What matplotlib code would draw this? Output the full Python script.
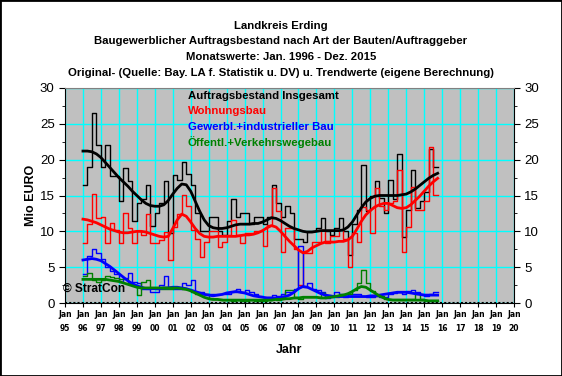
import numpy as np
import matplotlib
matplotlib.use("Agg")
import matplotlib.pyplot as plt
from matplotlib.patches import Rectangle

plt.rcParams["font.family"] = ["Liberation Sans", "DejaVu Sans"]

# ─── DATA (quarterly values, 1996 Q1 .. 2015 Q3) ─────────────────────────────
START = 1996.0
years = list(range(1995, 2021))

gesamt = [16.5, 19.0, 26.5, 22.0,  19.0, 22.0, 17.7, 17.7,  14.3, 18.8, 17.0, 11.5,
          14.0, 14.5, 16.5, 10.8,  12.5, 14.0, 17.0, 9.8,   17.8, 17.2, 19.7, 18.0,
          16.5, 12.5, 10.0, 10.0,  12.0, 12.0, 10.0, 9.5,   11.5, 14.5, 12.0, 12.5,
          12.5, 11.0, 12.0, 12.0,  11.0, 12.0, 16.5, 14.0,  12.0, 13.5, 12.5, 9.0,
          9.0, 8.5, 10.0, 10.0,    10.5, 11.9, 10.0, 9.5,   10.5, 11.8, 10.0, 6.7,
          11.0, 13.0, 19.3, 12.8,  15.0, 17.0, 14.7, 12.6,  17.2, 14.5, 20.8, 9.2,
          13.0, 18.6, 13.2, 14.3,  15.5, 21.5, 19.0]
wohnung = [8.4, 11.0, 15.2, 11.8,  12.0, 8.4, 11.2, 10.2,  8.4, 12.6, 10.5, 8.4,
           10.0, 9.5, 12.4, 8.4,   8.4, 8.8, 9.9, 6.0,     10.6, 12.4, 15.1, 13.5,
           10.2, 9.0, 6.4, 8.5,    10.0, 10.0, 7.8, 8.5,   9.5, 11.6, 9.5, 8.4,
           9.7, 9.7, 10.0, 10.0,   8.0, 10.9, 16.0, 12.9,  7.1, 10.5, 10.5, 7.5,
           2.5, 7.0, 7.0, 8.5,     8.5, 10.2, 8.4, 9.3,    9.3, 10.2, 9.0, 5.0,
           9.7, 8.5, 13.4, 13.0,   9.7, 16.0, 13.5, 13.0,  13.9, 14.2, 18.6, 7.1,
           10.6, 16.2, 13.0, 13.0, 14.3, 21.7, 15.1]
gewerbe = [4.0, 6.5, 7.5, 7.0,  6.2, 5.0, 4.5, 4.0,  3.0, 3.5, 4.2, 3.0,
           2.8, 2.0, 2.0, 1.5,  1.5, 2.5, 3.7, 2.3,  2.0, 2.0, 2.8, 2.5,
           3.2, 1.6, 1.6, 1.2,  1.2, 1.3, 1.3, 1.3,  1.3, 1.5, 2.0, 1.5,
           1.8, 1.5, 1.3, 1.0,  0.8, 0.9, 1.1, 1.0,  1.3, 1.5, 1.5, 2.0,
           8.0, 2.2, 2.8, 2.0,  1.8, 1.6, 0.7, 0.8,  1.5, 1.2, 0.9, 1.2,
           1.3, 1.3, 1.0, 0.9,  0.9, 1.0, 0.8, 0.9,  1.2, 1.4, 1.5, 1.3,
           1.7, 1.8, 1.6, 1.2,  1.0, 1.2, 1.5]
oeffentl = [3.7, 4.2, 3.2, 3.0,  3.2, 3.8, 3.6, 3.5,  3.3, 3.3, 2.8, 2.5,
            1.1, 3.0, 3.2, 2.1,  1.9, 1.9, 2.0, 2.0,  2.1, 2.1, 2.0, 2.0,
            1.5, 1.2, 1.2, 1.2,  0.6, 0.6, 0.6, 0.4,  0.4, 0.3, 0.4, 0.3,
            0.3, 0.4, 0.3, 0.3,  0.3, 0.4, 0.5, 0.4,  0.5, 1.8, 1.8, 0.8,
            0.5, 0.8, 0.8, 0.8,  0.8, 1.4, 0.8, 0.8,  0.8, 1.2, 1.2, 1.2,
            1.8, 2.8, 4.6, 2.8,  1.7, 1.0, 1.0, 0.5,  0.5, 0.5, 0.5, 0.5,
            0.5, 0.5, 1.3, 0.5,  0.3, 0.3, 0.3]

# trend values (quarterly, 1996 Q1 .. 2015 Q4)
trend_gesamt = [21.2, 21.2, 21.1, 20.8,  20.3, 19.6, 18.9, 18.2,  17.5, 16.9, 16.3, 15.6,
                15.0, 14.4, 13.9, 13.6,  13.5, 13.5, 13.7, 14.3,  15.2, 16.0, 16.6, 16.5,
                15.6, 14.2, 12.8, 11.6,  10.8, 10.5, 10.4, 10.4,  10.5, 10.7, 10.9, 11.0,
                11.0, 11.0, 11.1, 11.1,  11.3, 11.6, 11.9, 11.8,  11.5, 11.1, 10.7, 10.4,
                10.2, 10.0, 9.9, 9.9,    10.0, 10.1, 10.1, 10.1,  10.1, 10.1, 10.2, 10.6,
                11.3, 12.3, 13.3, 14.1,  14.6, 14.9, 15.0, 15.0,  15.0, 15.0, 15.0, 15.1,
                15.2, 15.5, 15.9, 16.4,  16.9, 17.4, 17.8, 18.1]
trend_wohnung = [11.7, 11.6, 11.4, 11.2,  10.9, 10.6, 10.3, 10.1,  9.9, 9.8, 9.8, 9.9,
                 10.0, 10.0, 9.9, 9.7,    9.5, 9.3, 9.2, 9.3,      10.4, 11.6, 12.4, 12.1,
                 11.3, 10.4, 9.7, 9.3,    9.2, 9.2, 9.3, 9.3,      9.3, 9.3, 9.3, 9.4,
                 9.5, 9.5, 9.6, 9.8,      10.1, 10.5, 10.8, 10.6,  10.0, 9.3, 8.6, 8.0,
                 7.4, 7.0, 7.2, 7.7,      8.0, 8.3, 8.5, 8.5,      8.5, 8.6, 8.6, 8.8,
                 9.3, 10.3, 11.4, 12.3,   12.9, 13.4, 13.7, 13.9,  13.9, 13.6, 13.3, 13.2,
                 13.3, 13.7, 14.3, 14.9,  15.6, 16.3, 16.9, 17.4]
trend_gewerbe = [6.0, 6.1, 6.2, 6.1,  5.9, 5.5, 5.1, 4.6,  4.1, 3.6, 3.1, 2.7,
                 2.4, 2.2, 2.0, 2.0,  2.0, 2.0, 2.1, 2.1,  2.2, 2.2, 2.1, 2.0,
                 1.8, 1.6, 1.4, 1.2,  1.1, 1.0, 1.1, 1.2,  1.4, 1.5, 1.6, 1.5,
                 1.4, 1.2, 1.0, 0.9,  0.8, 0.7, 0.7, 0.7,  0.8, 0.9, 1.1, 1.5,
                 2.0, 2.3, 2.2, 1.9,  1.6, 1.3, 1.1, 1.0,  0.9, 0.9, 0.9, 0.9,
                 0.9, 0.9, 0.9, 0.9,  1.0, 1.0, 1.1, 1.2,  1.3, 1.4, 1.5, 1.5,
                 1.5, 1.4, 1.3, 1.2,  1.1, 1.1, 1.1, 1.1]
trend_oeffentl = [3.3, 3.3, 3.3, 3.3,  3.3, 3.3, 3.2, 3.1,  3.0, 2.8, 2.6, 2.4,
                  2.2, 2.1, 2.1, 2.1,  2.1, 2.1, 2.1, 2.1,  2.1, 2.1, 2.0, 1.9,
                  1.7, 1.4, 1.1, 0.8,  0.6, 0.5, 0.5, 0.4,  0.4, 0.4, 0.4, 0.4,
                  0.4, 0.4, 0.4, 0.4,  0.4, 0.4, 0.4, 0.5,  0.5, 0.6, 0.6, 0.7,
                  0.7, 0.8, 0.8, 0.8,  0.8, 0.7, 0.7, 0.8,  0.9, 1.0, 1.1, 1.3,
                  1.6, 2.0, 2.3, 2.2,  1.8, 1.4, 1.0, 0.7,  0.5, 0.4, 0.4, 0.4,
                  0.4, 0.4, 0.4, 0.4,  0.4, 0.3, 0.3, 0.3]

names = ["Auftragsbestand Insgesamt", "Wohnungsbau",
         "Gewerbl.+industrieller Bau", "Öffentl.+Verkehrswegebau"]
colors = ["#000000", "#FF0000", "#0000FF", "#008000"]

titles = ["Landkreis Erding",
          "Baugewerblicher Auftragsbestand nach Art der Bauten/Auftraggeber",
          "Monatswerte: Jan. 1996 - Dez. 2015",
          "Original- (Quelle: Bay. LA f. Statistik u. DV) u. Trendwerte (eigene Berechnung)"]

# ─── PLOT ────────────────────────────────────────────────────────────────────
W, H = 562, 376
fig = plt.figure(figsize=(W/100, H/100), dpi=100)
fig.patch.set_facecolor("white")
ax = fig.add_axes([65/W, 1-303/H, 449/W, 215/H])
ax.set_facecolor("#C0C0C0")

raws = [gesamt, wohnung, gewerbe, oeffentl]
trends = [trend_gesamt, trend_wohnung, trend_gewerbe, trend_oeffentl]

for vals, c in zip(raws, colors):
    v = np.array(vals)
    x = START + np.arange(len(v) + 1) / 4
    ax.step(x, np.append(v, v[-1]), where="post", color=c, lw=1, zorder=3)
for vals, c in zip(trends, colors):
    v = np.array(vals)
    x = START + np.arange(len(v)) / 4
    ax.plot(x, v, color=c, lw=2.0, zorder=4)

ax.set_xlim(1995, 2020)
ax.set_ylim(0, 30)
ax.set_xticks(years)
ax.set_xticklabels([f"Jan\n{y % 100:02d}" for y in years], fontsize=5.5,
                   fontweight="bold", linespacing=1.75, family="DejaVu Sans")
ax.set_yticks(range(0, 31, 5))
ax.set_yticks(np.arange(0, 30.1, 2.5), minor=True)
ax.tick_params(axis="y", labelsize=9.5, length=4, right=True, labelright=True)
ax.tick_params(axis="y", which="minor", length=2, right=True)
ax.tick_params(axis="x", length=3, pad=2)
ax.grid(True, color="#00FFFF", lw=1, zorder=1)
ax.set_axisbelow(True)
ax.axhline(0, color="black", lw=1.5, ls=(0, (1, 1)), zorder=5)
for s in ["left", "right", "bottom"]:
    ax.spines[s].set_color("black")
ax.spines["top"].set_color("#808080")

ax.set_ylabel("Mio EURO", fontsize=9, fontweight="bold", labelpad=2)
ax.set_xlabel("Jahr", fontsize=9, fontweight="bold", labelpad=8)

for i, (n, c) in enumerate(zip(names, colors)):
    fig.text(188/W, 1-(96 + i*15.5)/H, n, color=c, fontsize=8.2,
             fontweight="bold", va="center", ha="left")

fig.text(63/W, 1-289/H, "© StratCon", fontsize=8.6, fontweight="bold",
         va="center", ha="left")

for i, t in enumerate(titles):
    fig.text(0.5, 1-(26 + i*15.5)/H, t, fontsize=8.2, fontweight="bold",
             ha="center", va="center")

fig.patches.append(Rectangle((0, 0), 1, 1, transform=fig.transFigure,
                             fill=False, edgecolor="black", lw=2))

fig.savefig("out.png", dpi=100)
